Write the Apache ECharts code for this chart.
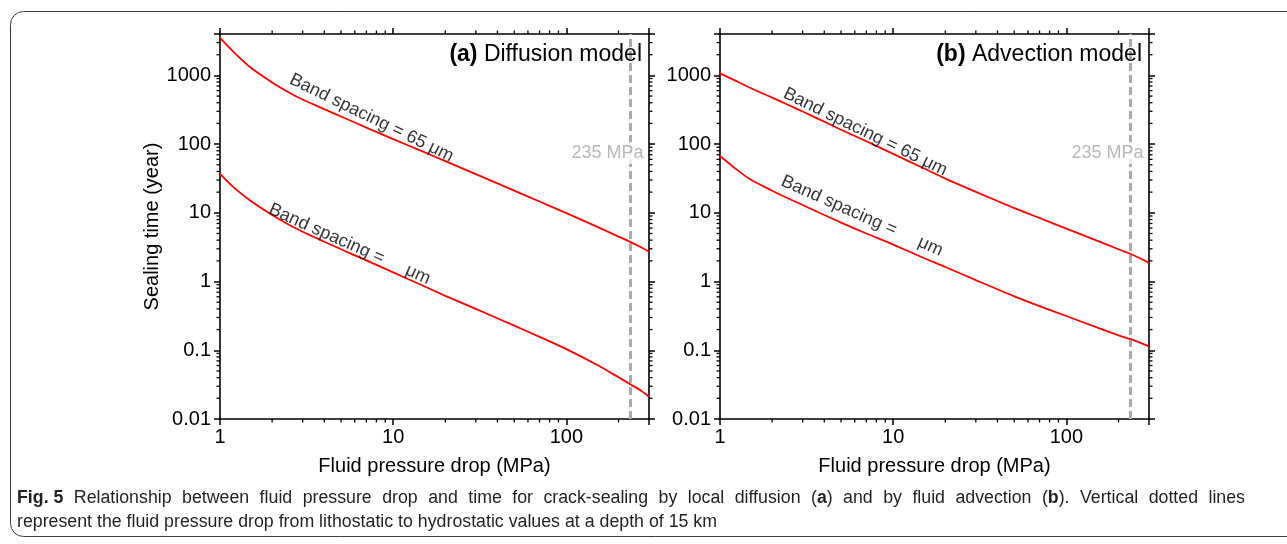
<!DOCTYPE html>
<html><head><meta charset="utf-8">
<script src="https://cdn.jsdelivr.net/npm/echarts@6/dist/echarts.min.js"></script>
<style>html,body{margin:0;padding:0;background:#fff}#c{width:1287px;height:544px}</style>
</head><body><div id="c"></div>
<script>
// ---------------- data ----------------
const pressureDrop = [1, 1.2, 1.5, 2, 2.5, 3, 4, 5, 7, 10, 15, 20, 30, 50, 70, 100, 150, 200, 235, 270, 300];
const diffusion65um = [3500, 2180, 1300, 790, 565, 445, 322, 252, 174, 118, 77, 56.5, 36.5, 21, 14.6, 9.9, 6.3, 4.5, 3.75, 3.15, 2.72];
const diffusionOther = [37, 23.5, 15, 9.3, 6.7, 5.3, 3.8, 2.95, 2.03, 1.36, 0.86, 0.62, 0.40, 0.228, 0.157, 0.104, 0.0615, 0.0405, 0.0318, 0.0258, 0.0212];
const advection65um = [1070, 860, 655, 475, 368, 298, 212, 162, 110, 72, 44.5, 31.5, 20.2, 11.7, 8.4, 5.9, 3.95, 2.95, 2.52, 2.15, 1.86];
const advectionOther = [67, 46, 30.5, 21, 16, 13, 9.3, 7.2, 5.0, 3.45, 2.2, 1.63, 1.05, 0.61, 0.44, 0.315, 0.215, 0.165, 0.145, 0.127, 0.114];
const xTickLabels = ['1', '10', '100'];
const yTickLabels = ['0.01', '0.1', '1', '10', '100', '1000'];
const hydroDrop = 235;
const xRange = [1, 300];
const yRange = [0.01, 4000];
const panelTitles = [['(a)', 'Diffusion model'], ['(b)', 'Advection model']];
const curveLabel65 = 'Band spacing = 65 \u03bcm';
const curveLabelOther = 'Band spacing =     \u03bcm';
const dropLabel = '235 MPa';
const xName = 'Fluid pressure drop (MPa)';
const yName = 'Sealing time (year)';
const captionLine1 = '**Fig.\u00a05** Relationship between fluid pressure drop and time for crack-sealing by local diffusion (**a**) and by fluid advection (**b**). Vertical dotted lines';
const captionLine2 = 'represent the fluid pressure drop from lithostatic to hydrostatic values at a depth of 15 km';

// ---------------- helpers ----------------
const FONT = "'Liberation Sans', Arial, sans-serif";
const CAP_FONT = "'Liberation Sans', Arial, sans-serif";
function fmt(v) { return String(Number(Number(v).toPrecision(6))); }

const minorX = [], minorY = [];
[1, 10, 100].forEach(d => { for (let k = 2; k <= 9; k++) { const v = k * d; if (v < xRange[1]) minorX.push(+v.toPrecision(6)); } });
[0.01, 0.1, 1, 10, 100, 1000].forEach(d => { for (let k = 2; k <= 9; k++) { const v = +(k * d).toPrecision(6); if (v < yRange[1]) minorY.push(v); } });

function xAx(grid, pos, main) {
  return {
    type: 'log', logBase: 10, gridIndex: grid, position: pos, min: xRange[0], max: xRange[1],
    axisLine: { show: true, onZero: false, lineStyle: { color: '#000', width: 1.6 } },
    axisTick: { show: true, inside: false, length: 6, lineStyle: { color: '#000', width: 1.5 } },
    minorTick: { show: false }, splitLine: { show: false }, minorSplitLine: { show: false },
    axisLabel: { show: main, margin: 8, fontSize: 20, color: '#000', fontFamily: FONT,
      formatter: v => xTickLabels.indexOf(fmt(v)) >= 0 ? fmt(v) : '' },
    name: main ? xName : '', nameLocation: 'middle', nameGap: 37,
    nameTextStyle: { fontSize: 20, color: '#000', fontFamily: FONT }
  };
}
function yAx(grid, pos, main, named) {
  return {
    type: 'log', logBase: 10, gridIndex: grid, position: pos, min: yRange[0], max: yRange[1],
    axisLine: { show: true, onZero: false, lineStyle: { color: '#000', width: 1.6 } },
    axisTick: { show: true, inside: false, length: 6, lineStyle: { color: '#000', width: 1.5 } },
    minorTick: { show: false }, splitLine: { show: false }, minorSplitLine: { show: false },
    axisLabel: { show: main, margin: 9, fontSize: 20, color: '#000', fontFamily: FONT,
      formatter: v => yTickLabels.indexOf(fmt(v)) >= 0 ? fmt(v) : '' },
    name: named ? yName : '', nameLocation: 'middle', nameGap: 54, nameRotate: 90,
    nameTextStyle: { fontSize: 20, color: '#000', fontFamily: FONT }
  };
}
function minorSeries(xi, yi, dim) {
  const vals = dim === 'x' ? minorX : minorY;
  return {
    type: 'custom', xAxisIndex: xi, yAxisIndex: yi, silent: true, clip: false, z: 6,
    data: vals.map(v => dim === 'x' ? [v, 1] : [1, v]),
    renderItem: (params, api) => {
      const cs = params.coordSys;
      const L = 3.5;
      const style = { stroke: '#000', lineWidth: 1.3 };
      if (dim === 'x') {
        const px = api.coord([api.value(0), 1])[0];
        const b = cs.y + cs.height;
        return { type: 'group', children: [
          { type: 'line', shape: { x1: px, y1: b, x2: px, y2: b + L }, style },
          { type: 'line', shape: { x1: px, y1: cs.y, x2: px, y2: cs.y - L }, style }] };
      } else {
        const py = api.coord([1, api.value(1)])[1];
        const r = cs.x + cs.width;
        return { type: 'group', children: [
          { type: 'line', shape: { x1: cs.x, y1: py, x2: cs.x - L, y2: py }, style },
          { type: 'line', shape: { x1: r, y1: py, x2: r + L, y2: py }, style }] };
      }
    }
  };
}
function curve(xi, yi, ys, withDrop) {
  const s = {
    type: 'line', xAxisIndex: xi, yAxisIndex: yi, showSymbol: false, smooth: 0.25, silent: true, z: 4,
    data: pressureDrop.map((x, i) => [x, ys[i]]),
    lineStyle: { color: '#ff0000', width: 1.8 }
  };
  if (withDrop) {
    s.markLine = { silent: true, symbol: ['none', 'none'], label: { show: false }, z: 2,
      lineStyle: { color: '#aaaaaa', type: [8, 4], width: 3 }, data: [{ xAxis: hydroDrop }] };
  }
  return s;
}
function labels(xi, yi, items) {
  return {
    type: 'scatter', xAxisIndex: xi, yAxisIndex: yi, silent: true, z: 10,
    symbolSize: 0.001, itemStyle: { color: 'transparent' },
    data: items.map(it => ({
      value: [it.x, it.y],
      label: Object.assign({ show: true, position: 'inside', formatter: it.text, fontFamily: FONT,
        fontSize: it.size || 18, color: it.color || '#000', textBorderWidth: 0, rotate: it.rot || 0 }, it.extra || {})
    }))
  };
}

// ---------------- caption layout ----------------
const mctx = document.createElement('canvas').getContext('2d');
function measure(t, b, size) { mctx.font = (b ? 'bold ' : '') + size + 'px ' + CAP_FONT; return mctx.measureText(t).width; }
function segs(tok) { return tok.split('**').map((t, i) => ({ t, b: i % 2 === 1 })).filter(s => s.t.length); }
function wTok(tok, size) { return segs(tok).reduce((a, s) => a + measure(s.t, s.b, size), 0); }
const capX0 = 17, capLine1Right = 1245, capLine2Target = 700;
const capSize = 18;
const toks2 = captionLine2.split(' ');
const nat2 = toks2.reduce((a, t) => a + wTok(t, capSize), 0) + (toks2.length - 1) * measure(' ', false, capSize);
const capScale = Math.max(0.7, Math.min(1.1, capLine2Target / nat2));
const capEls = [];
function placeLine(toks, y, justifyTo) {
  const widths = toks.map(t => wTok(t, capSize) * capScale);
  const sp = measure(' ', false, capSize) * capScale;
  let gap = sp;
  if (justifyTo) {
    const tot = widths.reduce((a, b) => a + b, 0);
    gap = (justifyTo - capX0 - tot) / (toks.length - 1);
  }
  let x = capX0;
  toks.forEach((t, i) => {
    segs(t).forEach(s => {
      capEls.push({ type: 'text', x: x, y: y, scaleX: capScale, silent: true,
        style: { text: s.t, fontSize: capSize, fontFamily: CAP_FONT, fontWeight: s.b ? 'bold' : 'normal',
          fill: '#231f20', align: 'left', verticalAlign: 'middle' } });
      x += measure(s.t, s.b, capSize) * capScale;
    });
    x += gap;
  });
}
placeLine(captionLine1.split(' '), 498, capLine1Right);
placeLine(toks2, 522, null);

// ---------------- option ----------------
const grids = [
  { left: 220, top: 34, width: 429, height: 385 },
  { left: 720, top: 34, width: 429, height: 385 }
];
const option = {
  backgroundColor: '#fff',
  animation: false,
  grid: grids.map(g => Object.assign({ containLabel: false, outerBoundsMode: 'none' }, g)),
  xAxis: [xAx(0, 'bottom', true), xAx(0, 'top', false), xAx(1, 'bottom', true), xAx(1, 'top', false)],
  yAxis: [yAx(0, 'left', true, true), yAx(0, 'right', false, false), yAx(1, 'left', true, false), yAx(1, 'right', false, false)],
  title: panelTitles.map((t, i) => ({
    text: '{b|' + t[0] + '} ' + t[1],
    right: 1287 - (grids[i].left + grids[i].width) + 7, top: 43, padding: 0,
    textStyle: { fontSize: 23, fontWeight: 'normal', color: '#000', fontFamily: FONT,
      rich: { b: { fontSize: 23, fontWeight: 'bold', color: '#000', fontFamily: FONT } } }
  })),
  series: [
    curve(0, 0, diffusion65um, true),
    curve(0, 0, diffusionOther, false),
    curve(2, 2, advection65um, true),
    curve(2, 2, advectionOther, false),
    minorSeries(0, 0, 'x'), minorSeries(0, 0, 'y'),
    minorSeries(2, 2, 'x'), minorSeries(2, 2, 'y'),
    labels(0, 0, [
      { x: 7.5, y: 240, text: curveLabel65, rot: -26 },
      { x: 5.6, y: 3.5, text: curveLabelOther, rot: -24 },
      { x: hydroDrop, y: 74, text: dropLabel, size: 18, color: '#a6a6a6',
        extra: { align: 'right', offset: [13, 0], backgroundColor: '#fff', padding: [2, 0] } }
    ]),
    labels(2, 2, [
      { x: 6.9, y: 150, text: curveLabel65, rot: -26 },
      { x: 6.6, y: 9.0, text: curveLabelOther, rot: -24 },
      { x: hydroDrop, y: 74, text: dropLabel, size: 18, color: '#a6a6a6',
        extra: { align: 'right', offset: [13, 0], backgroundColor: '#fff', padding: [2, 0] } }
    ])
  ],
  graphic: [
    { type: 'rect', silent: true, z: -10, shape: { x: 10.5, y: 11.5, width: 1400, height: 525, r: 13 },
      style: { fill: 'none', stroke: '#3a3a3a', lineWidth: 1 } }
  ].concat(capEls)
};
const chart = echarts.init(document.getElementById('c'), null, { renderer: 'canvas' });
chart.setOption(option);
</script></body></html>
